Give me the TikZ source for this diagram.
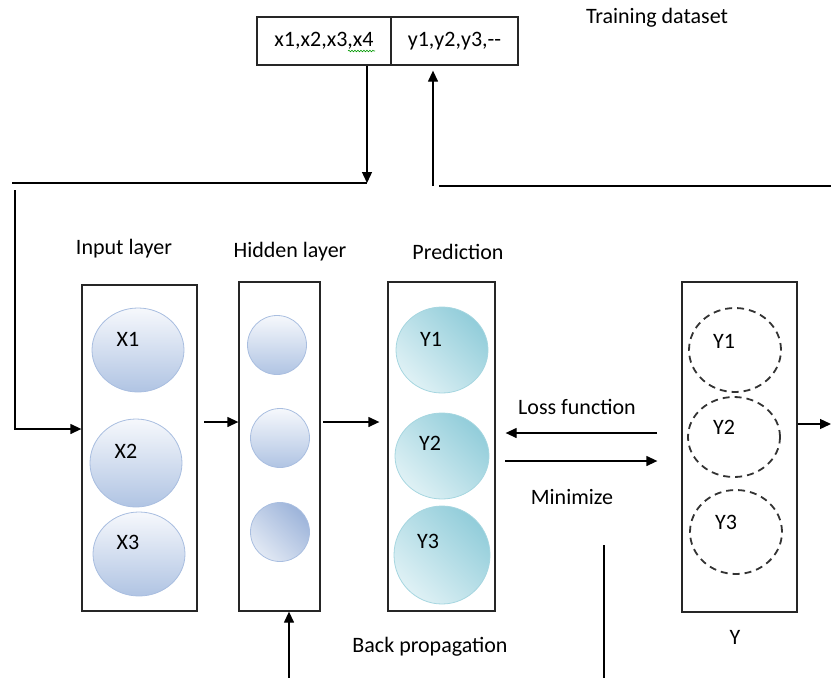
\documentclass[tikz,border=0pt]{standalone}
\usepackage{fontspec}
\setmainfont{Carlito}
\usetikzlibrary{arrows.meta,shapes.geometric,decorations.pathmorphing}
\definecolor{inborder}{HTML}{A9BEE0}
\definecolor{intop}{HTML}{F6F8FC}
\definecolor{inbot}{HTML}{B0C4E3}
\definecolor{hdark}{HTML}{9DB4DA}
\definecolor{hlight}{HTML}{E2E9F4}
\definecolor{pborder}{HTML}{A6D6E0}
\definecolor{pdark}{HTML}{92CDDA}
\definecolor{plight}{HTML}{DFF1F5}
\begin{document}
\begin{tikzpicture}[x=1pt,y=-1pt,
  lbl/.style={font=\fontsize{22}{26}\selectfont, text=black, inner sep=0},
  layerbox/.style={draw=black!85, line width=1.3pt, rectangle, inner sep=0},
  arr/.style={line width=1.3pt, draw=black, -{Triangle[length=11pt,width=10pt]}},
  ln/.style={line width=1.3pt, draw=black},
  incirc/.style={ellipse, draw=inborder, line width=0.8pt, inner sep=0,
     top color=intop, bottom color=inbot},
  hdiag/.style={ellipse, draw=inborder, line width=0.8pt, inner sep=0,
     top color=hdark, bottom color=hlight, shading angle=-45},
  pcirc/.style={ellipse, draw=pborder, line width=0.8pt, inner sep=0,
     top color=pdark, bottom color=plight, shading angle=-45},
  dcirc/.style={ellipse, draw=black!80, line width=1.8pt, dash pattern=on 7pt off 5pt, inner sep=0},
]
\useasboundingbox (0,0) rectangle (831,678);

% training dataset table
\node[layerbox, minimum width=134pt, minimum height=48pt, lbl] (xcell) at (324,41) {x1,x2,x3,x4};
\node[layerbox, minimum width=127pt, minimum height=48pt, lbl] (ycell) at (454.5,41) {y1,y2,y3,{-}{-}};
\draw[green!60!black, line width=0.6pt, decorate, decoration={snake, amplitude=0.8pt, segment length=3pt}] (348,51) -- (375,51);
\node[lbl] (tds) at (657,18) {Training dataset};

% layer boxes
\node[layerbox, minimum width=115pt, minimum height=326pt] (inbox) at (139.5,448) {};
\node[layerbox, minimum width=81pt, minimum height=329pt] (hidbox) at (279.5,446.5) {};
\node[layerbox, minimum width=107pt, minimum height=329pt] (predbox) at (441.5,446.5) {};
\node[layerbox, minimum width=115pt, minimum height=330pt] (ybox) at (739.5,447) {};

% titles
\node[lbl] (tin) at (124,249) {Input layer};
\node[lbl] (thid) at (290,252) {Hidden layer};
\node[lbl] (tpred) at (458,252) {Prediction};
\node[lbl] (ty) at (735,637) {Y};

% input circles
\node[incirc, minimum width=92pt, minimum height=84pt] (x1) at (138,350) {};
\node[incirc, minimum width=92pt, minimum height=88pt] (x2) at (136,463) {};
\node[incirc, minimum width=92pt, minimum height=84pt] (x3) at (139,554) {};
\node[lbl] (x1t) at (128,339) {X1};
\node[lbl] (x2t) at (126,451) {X2};
\node[lbl] (x3t) at (128,542) {X3};

% hidden circles
\node[incirc, minimum width=59pt, minimum height=59pt] (h1) at (277,345) {};
\node[incirc, minimum width=59pt, minimum height=59pt] (h2) at (280,438) {};
\node[hdiag, minimum width=59pt, minimum height=59pt] (h3) at (280,532) {};

% prediction circles
\node[pcirc, minimum width=92pt, minimum height=86pt] (p1) at (442,350) {};
\node[pcirc, minimum width=94pt, minimum height=86pt] (p2) at (442,456) {};
\node[pcirc, minimum width=96pt, minimum height=98pt] (p3) at (442,555) {};
\node[lbl] (p1t) at (431,339) {Y1};
\node[lbl] (p2t) at (430,443) {Y2};
\node[lbl] (p3t) at (428,541) {Y3};

% target circles
\node[dcirc, minimum width=92pt, minimum height=84pt] (y1) at (735,350) {};
\node[dcirc, minimum width=92pt, minimum height=80pt] (y2) at (734,437) {};
\node[dcirc, minimum width=92pt, minimum height=84pt] (y3) at (736,532) {};
\node[lbl] (y1t) at (724,341) {Y1};
\node[lbl] (y2t) at (724,427) {Y2};
\node[lbl] (y3t) at (726,522) {Y3};

% middle labels
\node[lbl] (loss) at (577,407) {Loss function};
\node[lbl] (mini) at (572,497) {Minimize};
\node[lbl] (bprop) at (430,647) {Back propagation};

% coordinates
\coordinate (dtip) at (367,183);
\coordinate (tl) at (12,183);
\coordinate (lv) at (15,190);
\coordinate (lin) at (15,429);
\coordinate (ubot) at (433,186);
\coordinate (rl1) at (439,186);
\coordinate (rl2) at (831,186);
\coordinate (a1) at (204,422);
\coordinate (a2) at (323,422);
\coordinate (l1) at (657,433);
\coordinate (m1) at (505,461);
\coordinate (outend) at (831,424);
\coordinate (b1) at (604,545);
\coordinate (b2) at (604,678);
\coordinate (bp) at (289,678);

% connectors
\draw[arr] (xcell.south -| dtip) -- (dtip);
\draw[ln] (tl) -- (dtip);
\draw[arr] (lv) -- (lin) -- (lin -| inbox.west);
\draw[arr, shorten >=5pt] (ubot) -- (ycell.south -| ubot);
\draw[ln] (rl1) -- (rl2);
\draw[arr] (a1) -- (a1 -| hidbox.west);
\draw[arr, shorten >=8pt] (a2) -- (a2 -| predbox.west);
\draw[arr, shorten >=10pt] (l1) -- (l1 -| predbox.east);
\draw[arr, shorten >=24pt] (m1) -- (m1 -| ybox.west);
\draw[arr] (outend -| ybox.east) -- (outend);
\draw[ln] (b1) -- (b2);
\draw[arr] (bp) -- (bp |- hidbox.south);
\end{tikzpicture}
\end{document}
